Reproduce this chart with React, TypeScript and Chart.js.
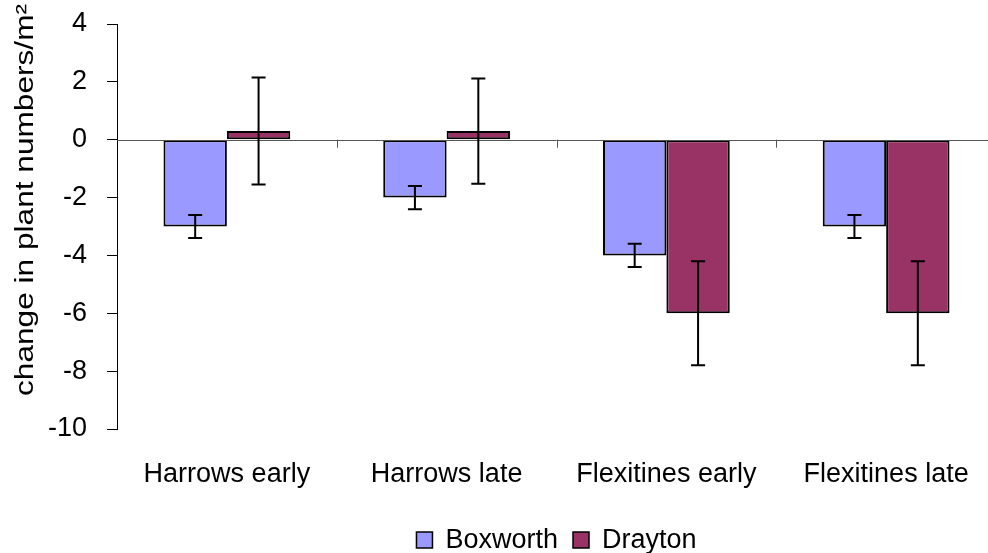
import React, { useEffect, useRef } from "react";
import { Chart, registerables } from "chart.js";

Chart.register(...registerables);

const categories = ["Harrows early", "Harrows late", "Flexitines early", "Flexitines late"];
const seriesNames = ["Boxworth", "Drayton"];
const seriesColors = ["#9999FF", "#993366"];
const boxworth = [-3, -2, -4, -3];
const boxworthErr = [0.4, 0.4, 0.4, 0.4];
const drayton = [0.3, 0.3, -6, -6];
const draytonErr = [1.85, 1.82, 1.8, 1.8];
const yTitle = "change in plant numbers/m²";
const FONT = "Arial, 'Liberation Sans', sans-serif";

const overlayPlugin = {
  id: "overlay",
  afterDatasetsDraw(chart: any) {
    const ctx = chart.ctx;
    const x = chart.scales.x;
    const y = chart.scales.y;
    const area = chart.chartArea;
    const y0 = y.getPixelForValue(0);
    ctx.save();
    // zero line
    ctx.strokeStyle = "#555";
    ctx.lineWidth = 1;
    ctx.beginPath();
    ctx.moveTo(area.left, Math.round(y0) + 0.5);
    ctx.lineTo(area.right, Math.round(y0) + 0.5);
    ctx.stroke();
    // category ticks
    const n = categories.length;
    for (let i = 1; i < n; i++) {
      const px = (x.getPixelForValue(i - 1) + x.getPixelForValue(i)) / 2;
      ctx.beginPath();
      ctx.moveTo(Math.round(px) + 0.5, y0);
      ctx.lineTo(Math.round(px) + 0.5, y0 + 8);
      ctx.stroke();
    }
    // error bars
    const errs = [boxworthErr, draytonErr];
    ctx.strokeStyle = "#000";
    ctx.lineWidth = 2;
    chart.data.datasets.forEach((ds: any, di: number) => {
      const meta = chart.getDatasetMeta(di);
      meta.data.forEach((bar: any, i: number) => {
        const v = ds.data[i];
        const e = errs[di][i];
        const cx = bar.x;
        const top = y.getPixelForValue(v + e);
        const bot = y.getPixelForValue(v - e);
        ctx.beginPath();
        ctx.moveTo(cx, top);
        ctx.lineTo(cx, bot);
        ctx.moveTo(cx - 7, top);
        ctx.lineTo(cx + 7, top);
        ctx.moveTo(cx - 7, bot);
        ctx.lineTo(cx + 7, bot);
        ctx.stroke();
      });
    });
    ctx.restore();

    // legend
    ctx.save();
    ctx.font = `27px ${FONT}`;
    ctx.textBaseline = "middle";
    ctx.textAlign = "left";
    const box = 16;
    const gapBoxText = 13;
    const gapItems = 15;
    const widths = seriesNames.map((s) => ctx.measureText(s).width);
    let total = 0;
    widths.forEach((w, i) => {
      total += box + gapBoxText + w + (i < widths.length - 1 ? gapItems : 0);
    });
    let lx = (area.left + area.right) / 2 - total / 2;
    const ly = 540;
    seriesNames.forEach((s, i) => {
      ctx.fillStyle = seriesColors[i];
      ctx.fillRect(lx, ly - box / 2, box, box);
      ctx.strokeStyle = "#000";
      ctx.lineWidth = 1.5;
      ctx.strokeRect(lx, ly - box / 2, box, box);
      ctx.fillStyle = "#000";
      ctx.fillText(s, lx + box + gapBoxText, ly + 1);
      lx += box + gapBoxText + widths[i] + gapItems;
    });
    ctx.restore();

    // y title
    ctx.save();
    ctx.fillStyle = "#000";
    ctx.font = `25px ${FONT}`;
    ctx.textAlign = "center";
    ctx.textBaseline = "middle";
    const tw = ctx.measureText(yTitle).width;
    ctx.translate(26, 200);
    ctx.rotate(-Math.PI / 2);
    ctx.scale(392 / tw, 1);
    ctx.fillText(yTitle, 0, 0);
    ctx.restore();
  },
};

export default function App() {
  const ref = useRef<HTMLCanvasElement>(null);
  useEffect(() => {
    if (!ref.current) return;
    const chart = new Chart(ref.current, {
      type: "bar",
      data: {
        labels: categories,
        datasets: [
          {
            label: seriesNames[0],
            data: boxworth,
            backgroundColor: seriesColors[0],
            borderColor: "#000",
            borderWidth: 2,
            borderSkipped: false,
          },
          {
            label: seriesNames[1],
            data: drayton,
            backgroundColor: seriesColors[1],
            borderColor: "#000",
            borderWidth: 2,
            borderSkipped: false,
          },
        ],
      },
      options: {
        responsive: false,
        animation: false,
        layout: { padding: { top: 24, left: 0, right: 0, bottom: 0 } },
        datasets: { bar: { categoryPercentage: 0.577, barPercentage: 1 } } as any,
        plugins: {
          legend: { display: false },
          tooltip: { enabled: false },
        },
        scales: {
          x: {
            grid: { display: false },
            border: { display: false },
            ticks: { font: { family: FONT, size: 27 }, color: "#000", padding: 21, maxRotation: 0, autoSkip: false },
            afterFit: (s: any) => {
              s.height = 124;
              s.paddingLeft = 0;
              s.paddingRight = 0;
            },
          },
          y: {
            min: -10,
            max: 4,
            ticks: { stepSize: 2, font: { family: FONT, size: 27 }, color: "#000", padding: 20 },
            grid: { drawOnChartArea: false, drawTicks: true, tickLength: 10, color: "#000" },
            border: { display: true, color: "#000", width: 1 },
            afterFit: (s: any) => {
              s.width = 117;
              s.paddingTop = 0;
              s.paddingBottom = 0;
            },
          },
        },
      },
      plugins: [overlayPlugin],
    });
    return () => chart.destroy();
  }, []);
  return (
    <div style={{ position: "fixed", left: 0, top: 0, width: 988, height: 553, overflow: "hidden", background: "#fff" }}>
      <canvas ref={ref} width={996} height={553} style={{ display: "block" }} />
    </div>
  );
}
